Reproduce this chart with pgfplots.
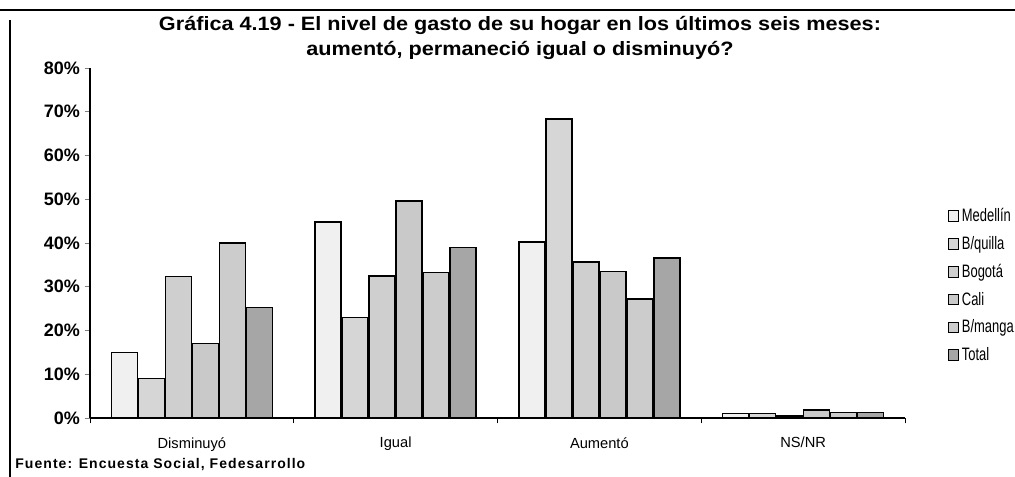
\documentclass[border=0pt]{standalone}
\usepackage{pgfplots}
\pgfplotsset{compat=1.18}
\usepackage{fontspec}
\setmainfont{Liberation Sans}
\newfontfamily\titlefont[FakeStretch=1.12]{Liberation Sans}
\newfontfamily\legfont[FakeStretch=0.72]{Liberation Sans}
\begin{document}
\begin{tikzpicture}
\useasboundingbox (0,0) rectangle (761.25pt,357.75pt);
\draw[line width=1pt] (0,350.25pt) -- (761.25pt,350.25pt);
\draw[line width=1pt] (7.5pt,0) -- (7.5pt,343pt);
\node[anchor=center,font=\titlefont\bfseries\fontsize{14.5}{18.75}\selectfont,align=center] at (390pt,329pt) {Gráfica 4.19 - El nivel de gasto de su hogar en los últimos seis meses:\\aumentó, permaneció igual o disminuyó?};
\node[anchor=west,font=\bfseries\fontsize{10.5}{12}\selectfont] at (8pt,9.5pt) {\addfontfeature{LetterSpace=7.5}Fuente: Encuesta Social, Fedesarrollo};
\begin{axis}[
  at={(67.5pt,44.25pt)}, anchor=south west,
  scale only axis, width=611.25pt, height=262.5pt,
  ybar=0.75pt, bar width=19.5pt,
  xmin=-0.5, xmax=3.5, ymin=0, ymax=80,
  axis x line*=bottom, axis y line*=left,
  axis line style={line width=0.8pt},
  xtick={0,1,2,3}, xticklabels={Disminuyó,Igual,Aumentó,NS/NR},
  x tick style={draw=none},
  minor xtick={-0.5,0.5,1.5,2.5,3.5},
  minor x tick style={draw=black, line width=0.6pt},
  tick align=outside, major tick length=4pt, minor tick length=4pt,
  xticklabel style={font=\fontsize{11}{13}\selectfont, yshift=-7pt},
  ytick={0,10,...,80},
  yticklabels={0\%,10\%,20\%,30\%,40\%,50\%,60\%,70\%,80\%},
  yticklabel style={font=\bfseries\fontsize{13.5}{15}\selectfont},
  y tick style={line width=0.6pt},
  legend style={at={(1.052,0.608)}, anchor=north west, draw=none, fill=none,
    font=\legfont\fontsize{13.5}{15}\selectfont, row sep=5.6pt, inner sep=0pt},
  legend cell align=left,
  legend image code/.code={\draw[#1, line width=0.7pt] (0pt,-4pt) rectangle (8pt,4pt);},
  every axis plot/.append style={draw=black, line width=1.1pt},
]
\addplot[fill=gray!12] coordinates {(0,15) (1,44.8) (2,40.2) (3,1.0)};
\addplot[fill=gray!32] coordinates {(0,9) (1,23) (2,68.3) (3,1.0)};
\addplot[fill=gray!38] coordinates {(0,32.3) (1,32.5) (2,35.7) (3,0.5)};
\addplot[fill=gray!42] coordinates {(0,17) (1,49.6) (2,33.5) (3,1.8)};
\addplot[fill=gray!40] coordinates {(0,40) (1,33.3) (2,27.2) (3,1.2)};
\addplot[fill=gray!70] coordinates {(0,25.3) (1,39) (2,36.6) (3,1.2)};
\legend{Medellín,B/quilla,Bogotá,Cali,B/manga,Total}
\end{axis}
\end{tikzpicture}
\end{document}
